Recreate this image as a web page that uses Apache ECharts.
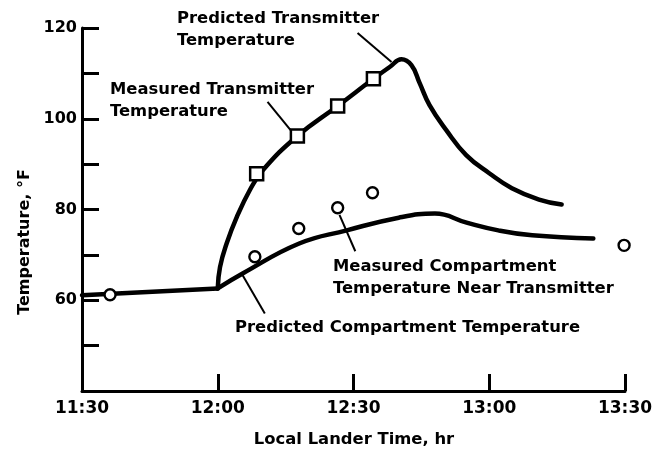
<!DOCTYPE html>
<html>
<head>
<meta charset="utf-8">
<script src="https://cdn.jsdelivr.net/npm/echarts@6/dist/echarts.min.js"></script>
<style>
  html, body { margin: 0; padding: 0; background: #fff; }
  #chart { width: 661px; height: 455px; }
</style>
</head>
<body>
<div id="chart"></div>
<script>
// Time is counted in minutes after 11:30 local lander time.
var timeLabels = ['11:30', '12:00', '12:30', '13:00', '13:30'];
var tempLabels = [60, 80, 100, 120];

// Predicted curves [minutes, °F]
var predictedTransmitter = [
  [30, 62.6], [30.5, 67.3], [32, 72.6], [34.2, 78.3], [37.1, 84.3], [40, 88.7],
  [47.6, 96.2], [56.5, 102.8], [64.4, 108.8], [68, 111.4], [70.6, 113.1],
  [72.8, 111.8], [74.6, 107.9], [76.8, 103.0], [80.5, 97.5], [84.9, 92.0],
  [90, 88.0], [95, 84.7], [101, 82.2], [106, 81.1]
];
// Flat pre-noon stretch, then the warming curve after 12:00
var compartmentBefore = [[0, 61.1], [30, 62.6]];
var compartmentAfter = [
  [30, 62.6], [35.5, 65.9], [48, 72.5], [58.5, 75.4], [70, 78.2],
  [78, 79.1], [85, 77.1], [92, 75.4], [99.5, 74.3], [113, 73.6]
];

// Measured values [minutes, °F]
var measuredTransmitter = [[38.6, 87.9], [47.6, 96.2], [56.5, 102.8], [64.4, 108.8]];
var measuredCompartment = [[6.2, 61.2], [38.2, 69.6], [47.9, 75.8], [56.5, 80.4], [64.2, 83.7], [119.8, 72.1]];

// Leader lines from each caption to its curve [from, to]
var leaders = [
  [[60.9, 118.9], [68.4, 112.5]],
  [[41.0, 103.7], [46.1, 97.5]],
  [[56.9, 78.8], [60.4, 70.8]],
  [[35.5, 65.5], [40.4, 57.1]]
];

var FONT = 'DejaVu Sans';
var chart = echarts.init(document.getElementById('chart'), null, { renderer: 'canvas' });

function caption(x, y, lines) {
  return {
    type: 'text', left: x, top: y,
    style: {
      text: lines.join('\n'), fill: '#000', font: 'bold 16.4px "' + FONT + '"',
      lineHeight: 21.5
    }
  };
}

var curveStyle = { color: '#000', width: 4.5, cap: 'round', join: 'round' };

chart.setOption({
  animation: false,
  backgroundColor: '#fff',
  grid: { left: 82, right: 36, top: 28, bottom: 64 },
  xAxis: {
    type: 'value', min: 0, max: 120, interval: 30,
    axisLine: { show: true, lineStyle: { color: '#000', width: 3 } },
    axisTick: { show: true, inside: true, length: 17, lineStyle: { color: '#000', width: 3 } },
    splitLine: { show: false },
    axisLabel: {
      margin: 9, color: '#000', fontFamily: FONT, fontWeight: 'bold', fontSize: 17,
      formatter: function (v) { return timeLabels[Math.round(v / 30)] || ''; }
    }
  },
  yAxis: {
    type: 'value', min: 40, max: 120, interval: 10,
    axisLine: { show: true, lineStyle: { color: '#000', width: 3 } },
    axisTick: { show: true, inside: true, length: 17, lineStyle: { color: '#000', width: 3 } },
    splitLine: { show: false },
    axisLabel: {
      margin: 5, color: '#000', fontFamily: FONT, fontWeight: 'bold', fontSize: 16,
      formatter: function (v) { return tempLabels.indexOf(v) >= 0 ? String(v) : ''; }
    }
  },
  series: [
    {
      name: 'Predicted Transmitter Temperature', type: 'line', data: predictedTransmitter,
      smooth: 0.45, showSymbol: false, lineStyle: curveStyle, z: 2
    },
    {
      name: 'Predicted Compartment Temperature', type: 'line', data: compartmentBefore,
      smooth: false, showSymbol: false, lineStyle: curveStyle, z: 2
    },
    {
      name: 'Predicted Compartment Temperature', type: 'line', data: compartmentAfter,
      smooth: 0.45, showSymbol: false, lineStyle: curveStyle, z: 2,
      markLine: {
        silent: true, symbol: ['none', 'none'], label: { show: false },
        lineStyle: { color: '#000', width: 2, type: 'solid', opacity: 1 },
        data: leaders.map(function (l) { return [{ coord: l[0] }, { coord: l[1] }]; })
      }
    },
    {
      name: 'Measured Transmitter Temperature', type: 'scatter', data: measuredTransmitter,
      symbol: 'rect', symbolSize: 13,
      itemStyle: { color: '#fff', borderColor: '#000', borderWidth: 2.5, opacity: 1 }, z: 5
    },
    {
      name: 'Measured Compartment Temperature Near Transmitter', type: 'scatter', data: measuredCompartment,
      symbol: 'circle', symbolSize: 11,
      itemStyle: { color: '#fff', borderColor: '#000', borderWidth: 2.4, opacity: 1 }, z: 5
    }
  ],
  graphic: [
    caption(177, 8, ['Predicted Transmitter', 'Temperature']),
    caption(110, 79, ['Measured Transmitter', 'Temperature']),
    caption(333, 256, ['Measured Compartment', 'Temperature Near Transmitter']),
    caption(235, 317, ['Predicted Compartment Temperature']),
    {
      type: 'text', x: 25, y: 242, rotation: Math.PI / 2,
      style: {
        text: 'Temperature, °F', fill: '#000', font: 'bold 16px "' + FONT + '"',
        align: 'center', verticalAlign: 'middle'
      }
    },
    {
      type: 'text', x: 354, y: 440,
      style: {
        text: 'Local Lander Time, hr', fill: '#000', font: 'bold 16.4px "' + FONT + '"',
        align: 'center', verticalAlign: 'middle'
      }
    }
  ]
});
</script>
</body>
</html>
